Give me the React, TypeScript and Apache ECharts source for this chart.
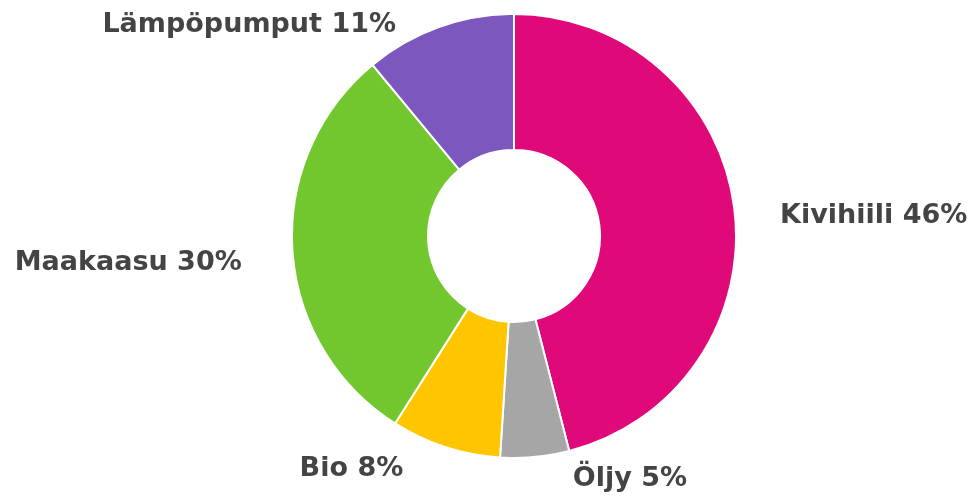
import React, { useEffect, useRef } from "react";
import * as echarts from "echarts";

const categories = ["Kivihiili", "Öljy", "Bio", "Maakaasu", "Lämpöpumput"];
const values = [46, 5, 8, 30, 11];
const colors = ["#E0097A", "#A6A6A6", "#FFC600", "#72C72E", "#7B57BE"];

export default function App() {
  const ref = useRef<HTMLDivElement>(null);
  useEffect(() => {
    document.body.style.margin = "0";
    const chart = echarts.init(ref.current!, null, { renderer: "svg" });
    const labelTweaks: Record<string, any> = {
      Kivihiili: { labelLine: { length2: 21 }, label: { offset: [0, 8] } },
      Maakaasu: { label: { offset: [0, 6] } },
    };
    chart.setOption({
      animation: false,
      series: [
        {
          type: "pie",
          top: 8,
          bottom: 4,
          left: 0,
          right: 0,
          center: [514, 228],
          radius: [86, 222],
          startAngle: 90,
          clockwise: true,
          avoidLabelOverlap: true,
          data: categories.map((c, i) => ({
            name: c,
            value: values[i],
            itemStyle: { color: colors[i] },
            ...(labelTweaks[c] || {}),
          })),
          itemStyle: { borderColor: "#fff", borderWidth: 2 },
          label: {
            show: true,
            position: "outside",
            overflow: "none",
            formatter: (p: any) => `${p.name} ${p.value}%`,
            fontFamily: "DejaVu Sans",
            fontWeight: "bold",
            fontSize: 27,
            color: "#444",
          },
          labelLine: { show: false, length: 20, length2: 31 },
          emphasis: { disabled: true },
        },
      ],
    });
    return () => chart.dispose();
  }, []);
  return (
    <div
      ref={ref}
      style={{ position: "fixed", left: 0, top: 0, width: 976, height: 498 }}
    />
  );
}
